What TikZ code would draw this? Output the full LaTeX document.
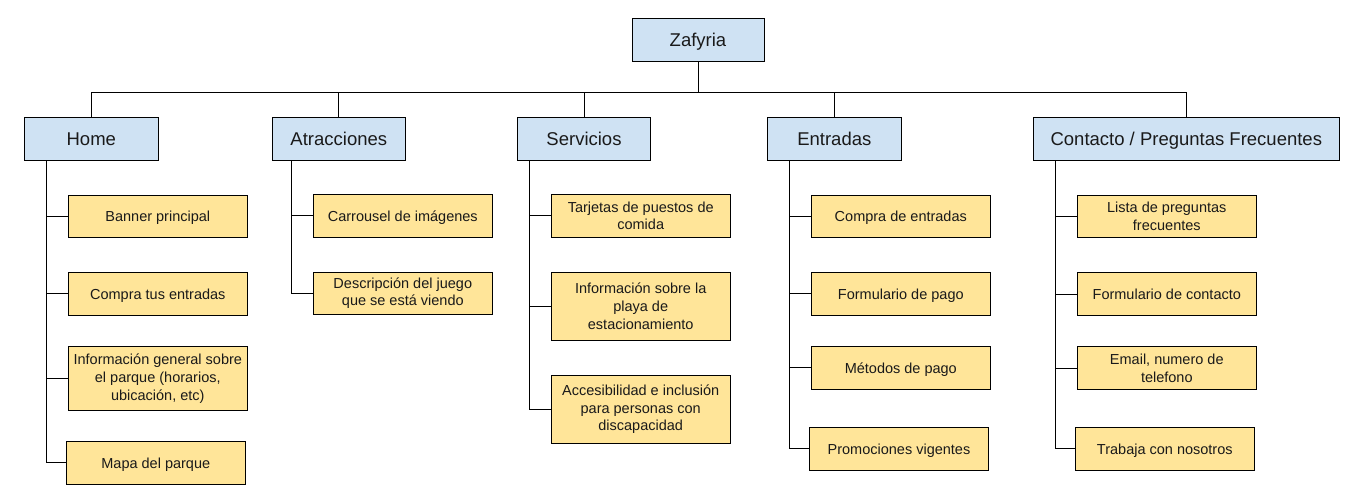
\documentclass[tikz,border=0pt]{standalone}
\usepackage{fontspec}
\setmainfont{Liberation Sans}
\definecolor{lblue}{HTML}{CFE2F3}
\definecolor{lyellow}{HTML}{FFE599}
\definecolor{txt}{HTML}{1A1A1A}
\tikzset{
  base/.style={draw=black, line width=1pt, inner sep=0pt, align=center, text=txt},
  topbox/.style={base, fill=lblue, minimum height=43pt, text height=14.2pt, text depth=0pt, font=\fontsize{18.5}{22}\selectfont},
  leaf/.style={base, fill=lyellow, minimum width=179pt, font=\fontsize{14.5}{17.7}\selectfont},
  one/.style={text height=11pt, text depth=0pt},
  wire/.style={line width=1pt, draw=black}
}
\begin{document}
\begin{tikzpicture}[x=1pt,y=-1pt]
\useasboundingbox (0,0) rectangle (1367,501);
% top
\node[topbox, minimum width=132pt] (zaf) at (698,39.7) {Zafyria};
\node[topbox, minimum width=134pt] (home) at (91.3,138.8) {Home};
\node[topbox, minimum width=133pt] (atr) at (338.8,138.8) {Atracciones};
\node[topbox, minimum width=133.4pt] (serv) at (584,138.8) {Servicios};
\node[topbox, minimum width=134pt] (ent) at (834.3,138.8) {Entradas};
\node[topbox, minimum width=306pt] (cont) at (1186.3,138.8) {Contacto / Preguntas Frecuentes};
\coordinate (bus) at (698,92.3);
% leaves Home
\node[leaf, one, minimum height=42pt] (h1) at (157.8,216.3) {Banner principal};
\node[leaf, one, minimum height=43pt] (h2) at (157.8,293.8) {Compra tus entradas};
\node[leaf, minimum height=63.6pt] (h3) at (157.8,378.5) {Información general sobre\\el parque (horarios,\\ubicación, etc)};
\node[leaf, one, minimum height=43pt] (h4) at (155.8,462.8) {Mapa del parque};
% leaves Atracciones
\node[leaf, one, minimum height=43pt] (a1) at (402.8,215.8) {Carrousel de imágenes};
\node[leaf, minimum height=42pt] (a2) at (402.8,293.3) {Descripción del juego\\que se está viendo};
% leaves Servicios
\node[leaf, minimum height=43pt] (s1) at (640.7,215.8) {Tarjetas de puestos de\\comida};
\node[leaf, minimum height=68pt] (s2) at (640.7,306.3) {Información sobre la\\playa de\\estacionamiento};
\node[leaf, minimum height=68pt] (s3) at (640.7,409.3) {Accesibilidad e inclusión\\para personas con\\discapacidad};
% leaves Entradas
\node[leaf, one, minimum height=42pt] (e1) at (900.8,216.3) {Compra de entradas};
\node[leaf, one, minimum height=43pt] (e2) at (900.8,293.8) {Formulario de pago};
\node[leaf, one, minimum height=43pt] (e3) at (900.8,367.8) {Métodos de pago};
\node[leaf, one, minimum height=43pt] (e4) at (899,448.8) {Promociones vigentes};
% leaves Contacto
\node[leaf, minimum height=42pt] (c1) at (1166.8,216.3) {Lista de preguntas\\frecuentes};
\node[leaf, one, minimum height=42.6pt] (c2) at (1166.8,294) {Formulario de contacto};
\node[leaf, minimum height=42.6pt] (c3) at (1166.8,368) {Email, numero de\\telefono};
\node[leaf, one, minimum height=42.7pt] (c4) at (1164.8,448.7) {Trabaja con nosotros};
% bus
\draw[wire] (zaf.south) -- (zaf.south |- bus);
\draw[wire] (home.north) |- (cont.north |- bus) -- (cont.north);
\draw[wire] (atr.north) -- (atr.north |- bus);
\draw[wire] (serv.north) -- (serv.north |- bus);
\draw[wire] (ent.north) -- (ent.north |- bus);
% spines
\coordinate (hs) at (46.3,0);
\coordinate (as) at (291.3,0);
\coordinate (ss) at (529.7,0);
\coordinate (es) at (789,0);
\coordinate (cs) at (1055.3,0);
\draw[wire] (hs |- home.south) |- (h4.west);
\foreach \n in {h1,h2,h3} \draw[wire] (\n.west) -- (hs |- \n.west);
\draw[wire] (as |- atr.south) |- (a2.west);
\draw[wire] (a1.west) -- (as |- a1.west);
\draw[wire] (ss |- serv.south) |- (s3.west);
\foreach \n in {s1,s2} \draw[wire] (\n.west) -- (ss |- \n.west);
\draw[wire] (es |- ent.south) |- (e4.west);
\foreach \n in {e1,e2,e3} \draw[wire] (\n.west) -- (es |- \n.west);
\draw[wire] (cs |- cont.south) |- (c4.west);
\foreach \n in {c1,c2,c3} \draw[wire] (\n.west) -- (cs |- \n.west);
\end{tikzpicture}
\end{document}
